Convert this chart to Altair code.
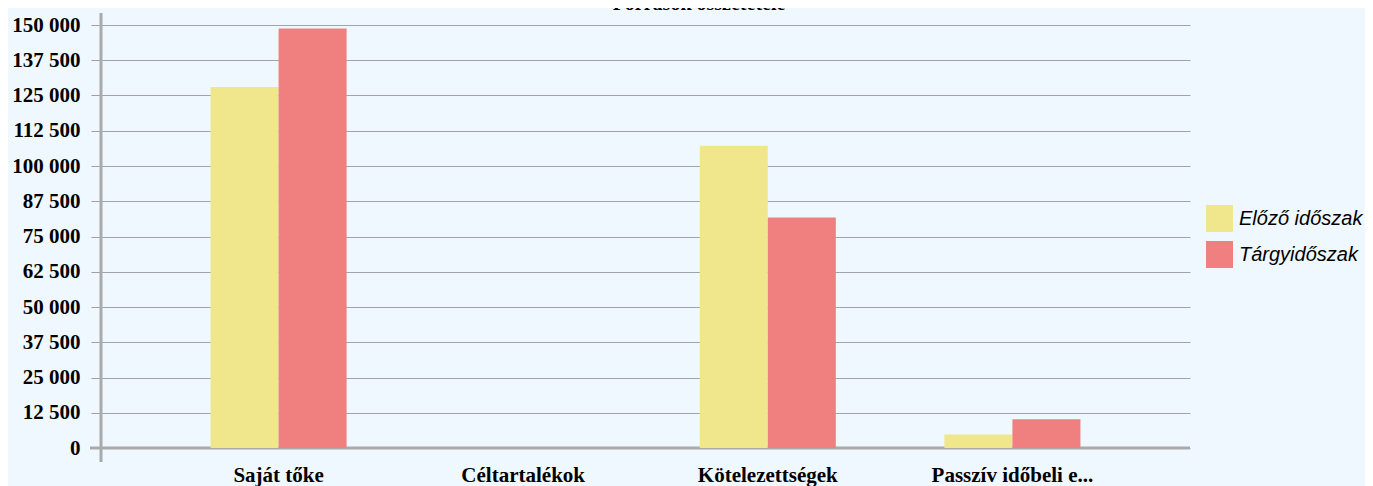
import altair as alt
import pandas as pd

categories = ["Saját tőke", "Céltartalékok", "Kötelezettségek", "Passzív időbeli e..."]
series = ["Előző időszak", "Tárgyidőszak"]
prev_values = [128000, 0, 107200, 4800]
curr_values = [148800, 0, 81700, 10200]
colors = ["#F0E68C", "#F08080"]
y_ticks = list(range(0, 150001, 12500))
title_text = "Források összetétele"

rows = []
for c, p, q in zip(categories, prev_values, curr_values):
    rows.append({"cat": c, "series": series[0], "value": p})
    rows.append({"cat": c, "series": series[1], "value": q})
df = pd.DataFrame(rows)

W, H = 1089, 423
serif = "Liberation Serif"
sans = "Liberation Sans"
axis_gray = "#aaaaaa"

bars = alt.Chart(df).mark_bar().encode(
    x=alt.X(
        "cat:N", sort=categories,
        scale=alt.Scale(paddingInner=0.4438, paddingOuter=0.4479),
        axis=alt.Axis(title=None, labelAngle=0, domain=False, ticks=False, grid=False,
                      labelFont=serif, labelFontWeight="bold", labelFontSize=21,
                      labelColor="#000000", labelPadding=16),
    ),
    xOffset=alt.XOffset("series:N", sort=series,
                        scale=alt.Scale(paddingInner=0, paddingOuter=0)),
    y=alt.Y(
        "value:Q",
        scale=alt.Scale(domain=[0, 150000], nice=False, zero=True),
        axis=alt.Axis(title=None, values=y_ticks, domain=False, tickSize=10,
                      tickColor="#a0a0a0", tickWidth=1, grid=True,
                      gridColor="#a0a4a8", gridWidth=1,
                      labelFont=serif, labelFontWeight="bold", labelFontSize=21,
                      labelColor="#000000", labelPadding=11,
                      labelExpr="replace(format(datum.value, ','), regexp(',', 'g'), ' ')"),
    ),
    color=alt.Color(
        "series:N", sort=series,
        scale=alt.Scale(domain=series, range=colors),
        legend=alt.Legend(title=None, orient="none", legendX=1105, legendY=180,
                          symbolType="square", symbolSize=729, symbolStrokeWidth=0,
                          labelFont=sans, labelFontStyle="italic", labelFontSize=20,
                          labelColor="#000000", rowPadding=9, labelOffset=6, padding=0),
    ),
)

one = alt.Data(values=[{"k": 1}])

xline = alt.Chart(one).mark_rule(color=axis_gray, strokeWidth=3).encode(
    x=alt.value(-11), x2=alt.value(W), y=alt.value(H)
)
yline = alt.Chart(one).mark_rule(color=axis_gray, strokeWidth=3).encode(
    x=alt.value(0), y=alt.value(-12), y2=alt.value(H + 14)
)
title = alt.Chart(one).mark_text(
    font=serif, fontWeight="bold", fontSize=20, baseline="alphabetic", align="center",
    color="#000000"
).encode(x=alt.value(598), y=alt.value(-15), text=alt.value(title_text))

chart = alt.layer(xline, yline, bars, title).properties(
    width=W, height=H, background="#F0F8FF",
    padding={"left": 93, "top": 17, "right": 175, "bottom": 38},
    autosize=alt.AutoSizeParams(type="none"),
).configure_view(stroke=None)

chart.save("out.html", embed_options={"renderer": "svg", "actions": False})
